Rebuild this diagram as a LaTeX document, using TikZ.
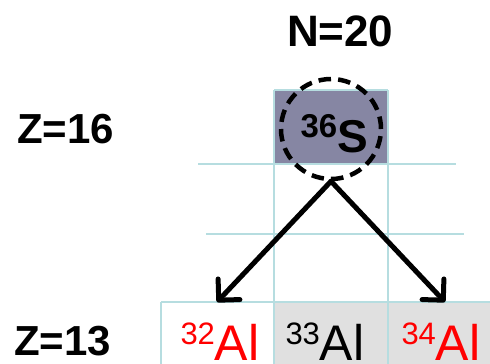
\documentclass[tikz,border=0pt]{standalone}
\usepackage{fontspec}
\setmainfont{Liberation Sans}
\usetikzlibrary{arrows.meta}
\definecolor{gridc}{RGB}{182,221,224}
\definecolor{sfill}{RGB}{134,134,163}
\definecolor{cellgray}{RGB}{224,224,224}
\definecolor{nred}{RGB}{255,0,0}
\begin{document}
\begin{tikzpicture}[x=1pt,y=-1pt,
  gridline/.style={draw=gridc,line width=2.2pt},
  cell/.style={rectangle,minimum width=114pt,minimum height=74pt,inner sep=0pt,outer sep=0pt},
  lbl/.style={anchor=base west,inner sep=0pt,outer sep=0pt},
  ring/.style={circle,draw=black,line width=4.5pt,dash pattern=on 12.5pt off 7.13pt,minimum size=100pt,inner sep=0pt},
  decay/.style={line width=5pt,line cap=round,-{Straight Barb[length=15pt,width=30pt,line cap=round,line join=round]}}]
\useasboundingbox (0,0) rectangle (490,364);
\clip (0,0) rectangle (490,364);
% cells
\node[cell,fill=sfill] (sbox) at (331,127) {};
\node[cell,fill=white] (c32) at (217,339) {};
\node[cell,fill=cellgray] (c33) at (331,339) {};
\node[cell,fill=cellgray] (c34) at (445,339) {};
% grid
\draw[gridline] (sbox.north west) -- (sbox.north east);
\draw[gridline] (198,164) -- (456,164);
\draw[gridline] (206,234) -- (464,234);
\draw[gridline] (274,90) -- (274,364);
\draw[gridline] (388,90) -- (388,364);
\draw[gridline] (161,302) -- (490,302);
\draw[gridline] (161,302) -- (161,364);
% labels
\node[lbl] (n20) at (287,46.5) {\fontsize{44}{44}\selectfont\bfseries N=20};
\node[lbl] (z16) at (17,143) {\fontsize{42}{42}\selectfont\bfseries Z=16};
\node[lbl] (z13) at (14,355) {\fontsize{42}{42}\selectfont\bfseries Z=13};
% 36S
\node[ring] (s36) at (331,129) {};
\node[lbl] (t36) at (300.5,152) {\raisebox{14.4pt}{\fontsize{33}{33}\selectfont\bfseries 36}\fontsize{46}{46}\selectfont\bfseries S};
% Al isotopes
\node[lbl,text=nred] (t32) at (180.5,360) {\raisebox{16pt}{\fontsize{31}{31}\selectfont 32}\fontsize{50}{50}\selectfont Al};
\node[lbl,text=black] (t33) at (285.5,360) {\raisebox{16pt}{\fontsize{31}{31}\selectfont 33}\fontsize{50}{50}\selectfont Al};
\node[lbl,text=nred] (t34) at (401.5,360) {\raisebox{16pt}{\fontsize{31}{31}\selectfont 34}\fontsize{50}{50}\selectfont Al};
% decays
\draw[decay] (s36.south) -- (c32.north);
\draw[decay] (s36.south) -- (c34.north);
\end{tikzpicture}
\end{document}
